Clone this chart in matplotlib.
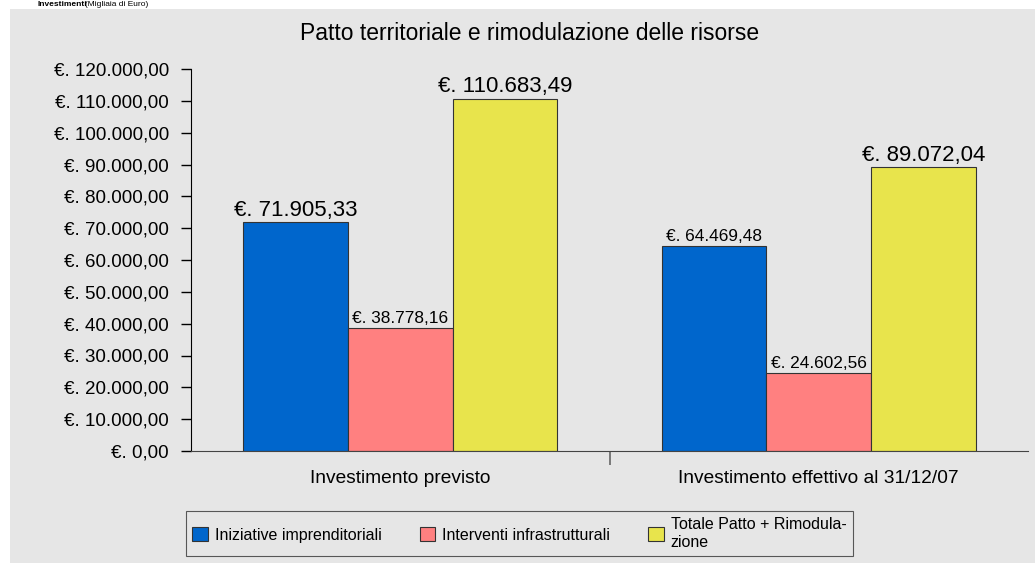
import matplotlib.pyplot as plt
from matplotlib.patches import Rectangle

plt.rcParams['font.family'] = ['Liberation Sans', 'DejaVu Sans']

categorie = ['Investimento previsto', 'Investimento effettivo al 31/12/07']
serie = ['Iniziative imprenditoriali', 'Interventi infrastrutturali',
         'Totale Patto + Rimodula-\nzione']
valori = {
    'Iniziative imprenditoriali': [71905.33, 64469.48],
    'Interventi infrastrutturali': [38778.16, 24602.56],
    'Totale Patto + Rimodula-\nzione': [110683.49, 89072.04],
}
etichette = {
    'Iniziative imprenditoriali': ['€. 71.905,33', '€. 64.469,48'],
    'Interventi infrastrutturali': ['€. 38.778,16', '€. 24.602,56'],
    'Totale Patto + Rimodula-\nzione': ['€. 110.683,49', '€. 89.072,04'],
}
# label size as in the original (big / small)
grandi = {
    'Iniziative imprenditoriali': [True, False],
    'Interventi infrastrutturali': [False, False],
    'Totale Patto + Rimodula-\nzione': [True, True],
}
colori = ['#0066cc', '#ff8080', '#e8e44c']
yticks = list(range(0, 120001, 10000))

W, H = 1035, 563
fig = plt.figure(figsize=(W / 100, H / 100), dpi=100)
fig.patch.set_facecolor('white')
sfondo = Rectangle((10 / W, 0), 1 - 10 / W, (H - 9) / H,
                   transform=fig.transFigure, facecolor='#e6e6e6',
                   edgecolor='none', zorder=-5)
fig.add_artist(sfondo)

# header (cut off in the original), kept small inside the white strip
fig.text(38 / W, 1 - 4.5 / H, 'Investimenti', fontsize=6, fontweight='bold',
         va='center', ha='left')
fig.text(85 / W, 1 - 4.5 / H, '(Migliaia di Euro)', fontsize=6,
         va='center', ha='left')

fig.text(530 / W, 1 - 33 / H, 'Patto territoriale e rimodulazione delle risorse',
         fontsize=16.5, ha='center', va='center')

ax = fig.add_axes([191 / W, 112 / H, 837 / W, 382 / H])
ax.set_facecolor('none')
ax.set_zorder(2)

w = 0.25
for i, s in enumerate(serie):
    xs = [c + (i - 1) * w for c in range(len(categorie))]
    ax.bar(xs, valori[s], width=w, color=colori[i], edgecolor='#333333',
           linewidth=0.8, label=s)
    for x, v, t, g in zip(xs, valori[s], etichette[s], grandi[s]):
        ax.text(x, v + 500, t, ha='center', va='bottom',
                fontsize=16 if g else 12.4)

ax.set_xlim(-0.5, len(categorie) - 0.5)
ax.set_ylim(0, 120000)
ax.set_yticks(yticks)
ax.set_yticklabels(['€. ' + f'{v:,.2f}'.replace(',', 'X').replace('.', ',').replace('X', '.')
                    for v in yticks], fontsize=13.5)
ax.set_xticks(range(len(categorie)))
ax.set_xticklabels(categorie, fontsize=13.8)
ax.tick_params(axis='x', length=0, pad=14)
ax.set_xticks([0.5], minor=True)
ax.tick_params(axis='x', which='minor', length=10, color='#666666', width=1.2)
ax.tick_params(axis='y', length=7, width=1, pad=9)

for sp in ['top', 'right']:
    ax.spines[sp].set_visible(False)
ax.spines['left'].set_bounds(0, 120000)
ax.spines['bottom'].set_color('#444444')

leg = fig.legend(loc='upper left', bbox_to_anchor=(186 / W, 1 - 511 / H),
                 ncol=3, fontsize=11.5, frameon=True, fancybox=False,
                 edgecolor='#333333', facecolor='none', handlelength=0.95,
                 handleheight=0.95, columnspacing=2.4, borderpad=0.4,
                 handletextpad=0.45, borderaxespad=0)
leg.get_frame().set_linewidth(0.8)

fig.savefig('out.png', dpi=100)
